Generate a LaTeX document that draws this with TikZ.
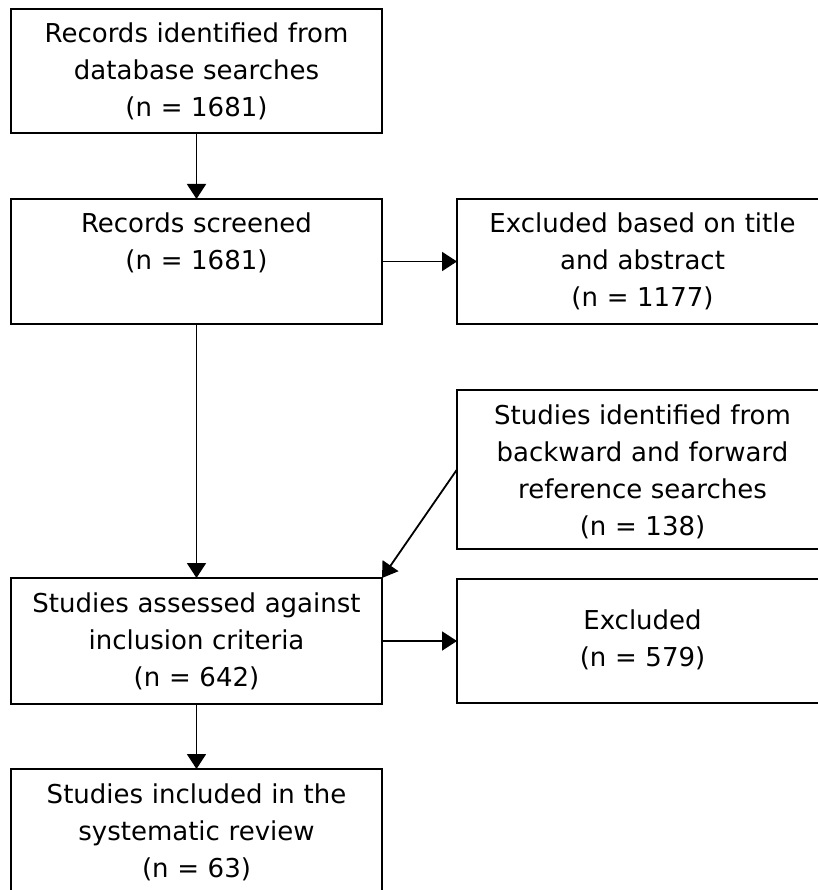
\documentclass[tikz,border=0pt]{standalone}
\usepackage{fontspec}
\setmainfont{DejaVu Sans}
\usetikzlibrary{positioning,arrows.meta}

\begin{document}
\begin{tikzpicture}[
		node distance=66pt and 75pt,
		flowbox/.style={draw, line width=1.8pt, inner sep=0pt, outer sep=0pt, text width=371pt, align=center,
			text height=34pt, font=\fontsize{26}{37}\selectfont},
		flow/.style={-{Triangle[length=15pt,width=19pt]}, line width=1.8pt},
	]
		\useasboundingbox (0,0) rectangle (817pt,-890pt);
		\node (rec) [flowbox, text depth=90pt, anchor=north west] at (11pt,-9pt) {Records identified from\\database searches\\(n = 1681)};
		\node (scr) [flowbox, text depth=91pt, below=of rec] {Records screened\\(n = 1681)};
		\node (exa) [flowbox, text depth=91pt, right=of scr] {Excluded based on title\\and abstract\\(n = 1177)};
		\node (ref) [flowbox, text depth=125pt, below=of exa] {Studies identified from\\backward and forward\\reference searches\\(n = 138)};
		\node (ass) [flowbox, text depth=92pt, below=254pt of scr] {Studies assessed against\\inclusion criteria\\(n = 642)};
		\node (exc) [flowbox, text height=50pt, text depth=74pt, right=of ass] {Excluded\\(n = 579)};
		\node (inc) [flowbox, text depth=91pt, below=65pt of ass] {Studies included in the\\systematic review\\(n = 63)};
		
		\draw[flow] (rec) -- (scr);
		\draw[flow] (scr) -- (exa);
		\draw[flow] (scr) -- (ass);
		\draw[flow] (ref.west) -- (ass.north east);
		\draw[flow] (ass) -- (exc);
		\draw[flow] (ass) -- (inc);
	\end{tikzpicture}
\end{document}
